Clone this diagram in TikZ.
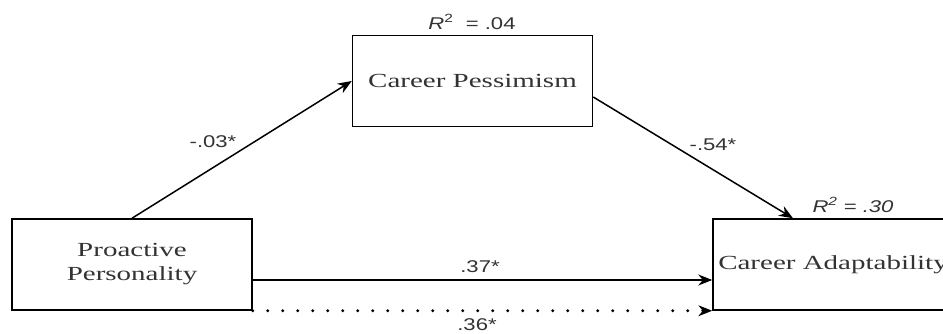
\documentclass[tikz,border=0pt]{standalone}
\usepackage{fontspec}
\setmainfont{Liberation Serif}[FakeStretch=1.45]
\newfontfamily\lblfont{Liberation Sans}[FakeStretch=1.3]
\usetikzlibrary{arrows.meta, positioning}
\definecolor{InkGray}{HTML}{333333}

\begin{document}
\begin{tikzpicture}[x=1pt, y=-1pt,
    var/.style={draw=black, line width=1.5pt, minimum width=240pt, minimum height=91pt,
        inner sep=0pt, align=center, font=\fontsize{20}{24}\selectfont, text=InkGray},
    path/.style={draw=black, line width=1.5pt, -{Stealth[length=14pt, width=11pt]}},
    coef/.style={font=\lblfont\fontsize{17}{20}\selectfont, text=InkGray, inner sep=0pt}
]
\clip (0,0) rectangle (943,334);

% Variables
\node[var] (pro) at (132,264.5) {Proactive\\Personality};
\node[var] (pes) at (472.5,81) {Career Pessimism};
\node[var] (ada) at (833,264.5) {Career Adaptability};

% Paths
\draw[path] (pro.north) -- (pes.west);
\draw[path] ([yshift=-16pt]pes.east) -- ([xshift=-40pt]ada.north);
\draw[path] ([yshift=-15.5pt]pro.east) -- ([yshift=-15.5pt]ada.west);
\draw[path, dash pattern=on 0pt off 15pt, line cap=round, line width=3.4pt,
    -{Stealth[length=14pt, width=11pt, line width=0pt]}] (pro.south east) -- (ada.south west);

% Coefficients
\node[coef] (b1) at (213,142) {-.03*};
\node[coef] (b2) at (713,145) {-.54*};
\node[coef] (b3) at (480,267) {.37*};
\node[coef] (b4) at (477,325) {.36*};

% Explained variance
\node[coef] (r1) at (472,22) {\textit{R}\textsuperscript{2}\ \ = .04};
\node[coef] (r2) at (853,205) {\textit{R\textsuperscript{2} = .30}};
\end{tikzpicture}
\end{document}
